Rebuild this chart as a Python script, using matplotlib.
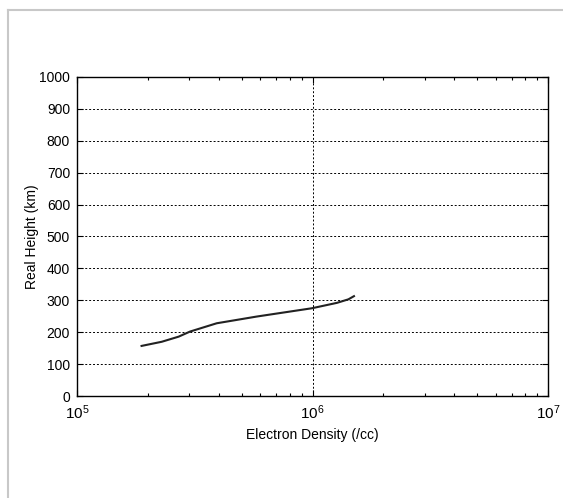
import matplotlib
matplotlib.use('Agg')
import matplotlib.pyplot as plt
from matplotlib.lines import Line2D
from matplotlib.ticker import LogLocator, NullFormatter, FuncFormatter
import numpy as np

plt.rc('font', family=['Liberation Sans', 'DejaVu Sans'], size=10)
plt.rc('mathtext', fontset='custom', rm='Liberation Sans', it='Liberation Sans')

# profile
density = [1.88e5, 2.29e5, 2.70e5, 3.02e5, 3.92e5, 5.79e5, 9.93e5, 1.27e6, 1.42e6, 1.50e6]
height = [157, 170, 186, 202, 228, 249, 275, 292, 303, 313]

W, H = 563, 498
fig = plt.figure(figsize=(W / 100, H / 100), dpi=100)
ax = fig.add_axes([77 / W, 1 - 396 / H, (548 - 77) / W, (396 - 77) / H])

ax.plot(density, height, color='#222222', lw=1.5)

ax.set_xscale('log')
ax.set_xlim(1e5, 1e7)
ax.set_ylim(0, 1000)
ax.set_yticks(np.arange(0, 1001, 100))
ax.xaxis.set_major_formatter(FuncFormatter(lambda v, p: '$\\mathregular{10^{%d}}$' % round(np.log10(v))))
ax.xaxis.set_minor_locator(LogLocator(base=10, subs=np.arange(2, 10)))
ax.xaxis.set_minor_formatter(NullFormatter())

ax.grid(True, which='major', color='black', linestyle=(0, (2, 2)), lw=0.7)
ax.tick_params(which='both', direction='in', top=True, right=True, colors='black', labelsize=10)
ax.tick_params(axis='x', labelsize=11)
ax.tick_params(which='major', length=4, width=0.8)
ax.tick_params(which='minor', length=2, width=0.8)
ax.tick_params(axis='x', pad=5)
ax.tick_params(axis='y', pad=5)
for s in ax.spines.values():
    s.set_linewidth(1.0)

ax.set_xlabel('Electron Density (/cc)', fontsize=10, labelpad=5)
ax.set_ylabel('Real Height (km)', fontsize=10, labelpad=0)

# light frame on the top and left edges
fig.add_artist(Line2D([8 / W, 1], [1 - 10 / H, 1 - 10 / H], color='#c8c8c8', lw=1.5))
fig.add_artist(Line2D([8 / W, 8 / W], [0, 1 - 10 / H], color='#c8c8c8', lw=1.5))

fig.savefig('out.png', dpi=100)
